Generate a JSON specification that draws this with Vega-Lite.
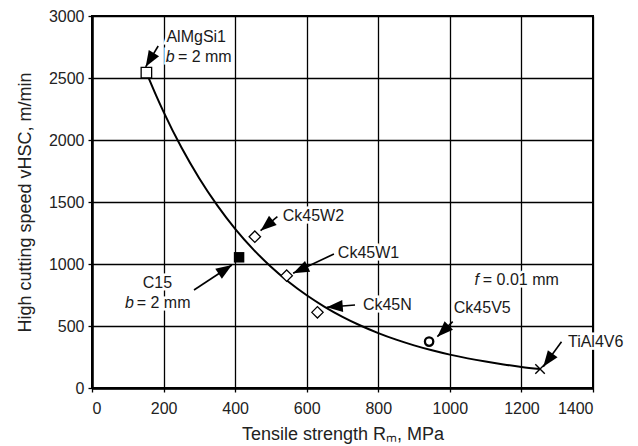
{
  "$schema": "https://vega.github.io/schema/vega-lite/v6.json",
  "width": 501,
  "height": 372,
  "autosize": "none",
  "padding": {"left": 92, "top": 16, "right": 45, "bottom": 58},
  "background": "white",
  "config": {
    "font": "Liberation Sans",
    "view": {"stroke": "black", "strokeWidth": 2}
  },
  "datasets": {
    "curve": [
      {"R": 152, "v": 2544}, {"R": 180, "v": 2354}, {"R": 200, "v": 2227},
      {"R": 250, "v": 1939}, {"R": 300, "v": 1690}, {"R": 350, "v": 1473},
      {"R": 400, "v": 1284}, {"R": 450, "v": 1120}, {"R": 500, "v": 978},
      {"R": 550, "v": 855}, {"R": 600, "v": 748}, {"R": 650, "v": 655},
      {"R": 700, "v": 574}, {"R": 750, "v": 504}, {"R": 800, "v": 443},
      {"R": 850, "v": 390}, {"R": 900, "v": 344}, {"R": 950, "v": 304},
      {"R": 1000, "v": 269}, {"R": 1050, "v": 239}, {"R": 1100, "v": 213},
      {"R": 1150, "v": 190}, {"R": 1200, "v": 170}, {"R": 1252, "v": 153}
    ],
    "points": [
      {"material": "AlMgSi1", "R": 152, "v": 2544},
      {"material": "C15", "R": 411, "v": 1054},
      {"material": "Ck45W2", "R": 455, "v": 1220},
      {"material": "Ck45W1", "R": 544, "v": 906},
      {"material": "Ck45N", "R": 630, "v": 610},
      {"material": "Ck45V5", "R": 942, "v": 374},
      {"material": "TiAl4V6", "R": 1252, "v": 153}
    ],
    "arrows": [
      {"material": "AlMgSi1", "r1": 185, "v1": 2758, "r2": 150, "v2": 2590},
      {"material": "C15", "r1": 285, "v1": 790, "r2": 391, "v2": 992},
      {"material": "Ck45W2", "r1": 518, "v1": 1382, "r2": 471, "v2": 1269},
      {"material": "Ck45W1", "r1": 676, "v1": 1081, "r2": 562, "v2": 925},
      {"material": "Ck45N", "r1": 735, "v1": 669, "r2": 656, "v2": 651},
      {"material": "Ck45V5", "r1": 1008, "v1": 535, "r2": 965, "v2": 414},
      {"material": "TiAl4V6", "r1": 1312, "v1": 373, "r2": 1261, "v2": 172}
    ],
    "labels": [
      {"text": "AlMgSi1", "R": 208, "v": 2831, "italic": false},
      {"text": "b", "R": 206, "v": 2669, "italic": true},
      {"text": "= 2 mm", "R": 240, "v": 2669, "italic": false},
      {"text": "C15", "R": 142, "v": 844, "italic": false},
      {"text": "b", "R": 92, "v": 683, "italic": true},
      {"text": "= 2 mm", "R": 125, "v": 683, "italic": false},
      {"text": "Ck45W2", "R": 533, "v": 1387, "italic": false},
      {"text": "Ck45W1", "R": 687, "v": 1089, "italic": false},
      {"text": "Ck45N", "R": 757, "v": 669, "italic": false},
      {"text": "Ck45V5", "R": 1011, "v": 643, "italic": false},
      {"text": "TiAl4V6", "R": 1330, "v": 373, "italic": false},
      {"text": "f", "R": 1069, "v": 871, "italic": true},
      {"text": "= 0.01 mm", "R": 1092, "v": 871, "italic": false}
    ]
  },
  "layer": [
    {
      "data": {"name": "labels"},
      "mark": {"type": "text", "align": "left", "baseline": "middle", "fontSize": 16, "fill": "white", "stroke": "white", "strokeWidth": 5},
      "encoding": {
        "x": {"field": "R", "type": "quantitative", "scale": {"domain": [0, 1400], "nice": false},
          "axis": {"values": [0, 200, 400, 600, 800, 1000, 1200, 1400], "format": "d", "title": "Tensile strength Rₘ, MPa",
            "grid": true, "gridColor": "black", "gridWidth": 1.3, "gridOpacity": 1,
            "domain": true, "domainColor": "black", "domainWidth": 2.5,
            "ticks": true, "tickColor": "black", "tickSize": 4, "tickWidth": 1.3,
            "labelFontSize": 16, "labelColor": "#222", "labelPadding": 8,
            "titleFontSize": 18, "titleFontWeight": "normal", "titleColor": "#222", "titlePadding": 9}},
        "y": {"field": "v", "type": "quantitative", "scale": {"domain": [0, 3000], "nice": false},
          "axis": {"values": [0, 500, 1000, 1500, 2000, 2500, 3000], "format": "d", "title": "High cutting speed vHSC, m/min",
            "grid": true, "gridColor": "black", "gridWidth": 1.3, "gridOpacity": 1,
            "domain": true, "domainColor": "black", "domainWidth": 2.5,
            "ticks": true, "tickColor": "black", "tickSize": 4, "tickWidth": 1.3,
            "labelFontSize": 16, "labelColor": "#222", "labelPadding": 4,
            "titleFontSize": 18, "titleFontWeight": "normal", "titleColor": "#222", "titlePadding": 14}},
        "text": {"field": "text"}
      }
    },
    {
      "data": {"name": "curve"},
      "mark": {"type": "line", "interpolate": "monotone", "stroke": "black", "strokeWidth": 2},
      "encoding": {
        "x": {"field": "R", "type": "quantitative"},
        "y": {"field": "v", "type": "quantitative"}
      }
    },
    {
      "data": {"name": "arrows"},
      "mark": {"type": "rule", "stroke": "black", "strokeWidth": 1.6},
      "encoding": {
        "x": {"field": "r1", "type": "quantitative"},
        "y": {"field": "v1", "type": "quantitative"},
        "x2": {"field": "r2"},
        "y2": {"field": "v2"}
      }
    },
    {
      "data": {"name": "arrows"},
      "transform": [
        {"calculate": "atan2(-(datum.v2 - datum.v1) * 0.124, (datum.r2 - datum.r1) * 0.35786) * 180 / PI", "as": "ang"}
      ],
      "mark": {"type": "point", "shape": "M0,0L-2,-0.75L-2,0.75Z", "filled": true, "fill": "black", "opacity": 1, "size": 256},
      "encoding": {
        "x": {"field": "r2", "type": "quantitative"},
        "y": {"field": "v2", "type": "quantitative"},
        "angle": {"field": "ang", "type": "quantitative", "scale": null}
      }
    },
    {
      "data": {"name": "points"},
      "transform": [{"filter": {"field": "material", "equal": "AlMgSi1"}}],
      "mark": {"type": "point", "shape": "square", "size": 110, "filled": true, "fill": "white", "stroke": "black", "strokeWidth": 1.3, "opacity": 1},
      "encoding": {"x": {"field": "R", "type": "quantitative"}, "y": {"field": "v", "type": "quantitative"}}
    },
    {
      "data": {"name": "points"},
      "transform": [{"filter": {"field": "material", "equal": "C15"}}],
      "mark": {"type": "point", "shape": "square", "size": 110, "filled": true, "fill": "black", "opacity": 1},
      "encoding": {"x": {"field": "R", "type": "quantitative"}, "y": {"field": "v", "type": "quantitative"}}
    },
    {
      "data": {"name": "points"},
      "transform": [{"filter": {"field": "material", "oneOf": ["Ck45W2", "Ck45W1", "Ck45N"]}}],
      "mark": {"type": "point", "shape": "diamond", "size": 130, "filled": true, "fill": "white", "stroke": "black", "strokeWidth": 1.3, "opacity": 1},
      "encoding": {"x": {"field": "R", "type": "quantitative"}, "y": {"field": "v", "type": "quantitative"}}
    },
    {
      "data": {"name": "points"},
      "transform": [{"filter": {"field": "material", "equal": "Ck45V5"}}],
      "mark": {"type": "point", "shape": "circle", "size": 70, "filled": true, "fill": "white", "stroke": "black", "strokeWidth": 2.3, "opacity": 1},
      "encoding": {"x": {"field": "R", "type": "quantitative"}, "y": {"field": "v", "type": "quantitative"}}
    },
    {
      "data": {"name": "points"},
      "transform": [{"filter": {"field": "material", "equal": "TiAl4V6"}}],
      "mark": {"type": "point", "shape": "M-1,-1L1,1M-1,1L1,-1", "size": 90, "filled": false, "stroke": "black", "strokeWidth": 1.4, "opacity": 1},
      "encoding": {"x": {"field": "R", "type": "quantitative"}, "y": {"field": "v", "type": "quantitative"}}
    },
    {
      "data": {"name": "labels"},
      "transform": [{"filter": "!datum.italic"}],
      "mark": {"type": "text", "align": "left", "baseline": "middle", "fontSize": 16, "fill": "#1a1a1a"},
      "encoding": {
        "x": {"field": "R", "type": "quantitative"},
        "y": {"field": "v", "type": "quantitative"},
        "text": {"field": "text"}
      }
    },
    {
      "data": {"name": "labels"},
      "transform": [{"filter": "datum.italic"}],
      "mark": {"type": "text", "align": "left", "baseline": "middle", "fontSize": 16, "fontStyle": "italic", "fill": "#1a1a1a"},
      "encoding": {
        "x": {"field": "R", "type": "quantitative"},
        "y": {"field": "v", "type": "quantitative"},
        "text": {"field": "text"}
      }
    }
  ]
}
